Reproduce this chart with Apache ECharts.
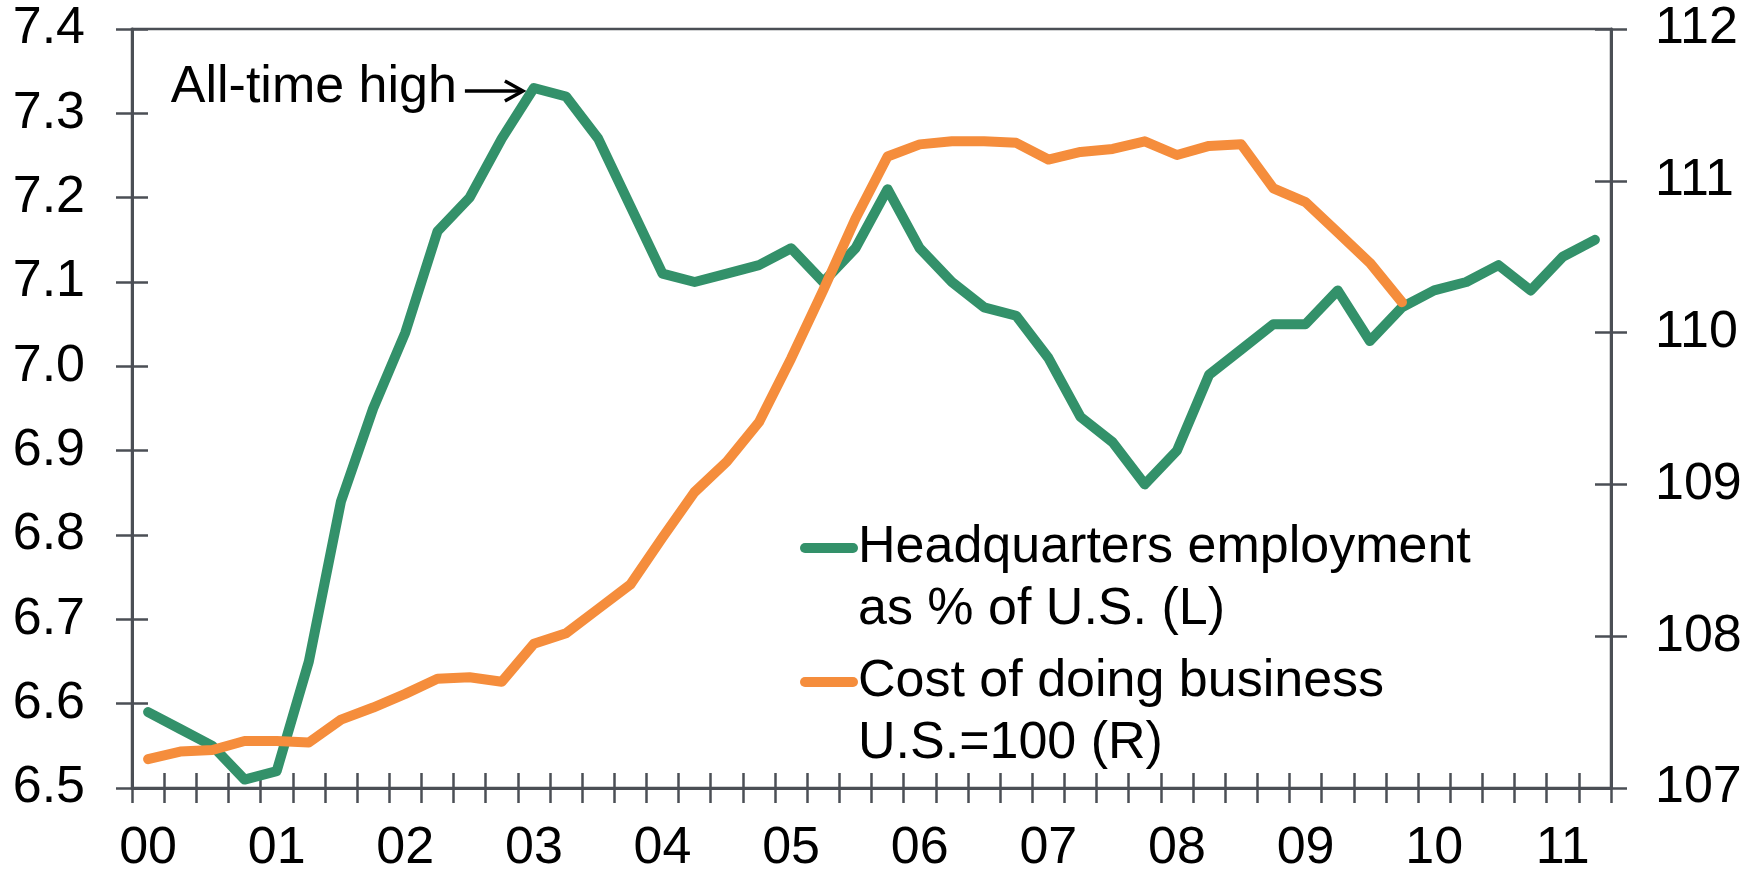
<!DOCTYPE html>
<html>
<head>
<meta charset="utf-8">
<title>Headquarters employment and cost of doing business</title>
<script src="https://cdn.jsdelivr.net/npm/echarts@6/dist/echarts.min.js"></script>
<style>
  html, body { margin: 0; padding: 0; background: #ffffff; }
  #main { width: 1762px; height: 875px; }
</style>
</head>
<body>
<div id="main"></div>
<script>
// Year tick labels (two-digit years); the axis runs quarterly, 2000 Q1 to 2011 Q2
const yearLabels = ['00', '01', '02', '03', '04', '05', '06', '07', '08', '09', '10', '11'];
const quarterNames = ['Q1', 'Q2', 'Q3', 'Q4'];
const quarterCount = 46;

// Headquarters employment as % of U.S. (left axis)
const hqShare = [
  6.59, 6.57, 6.55, 6.51, 6.52, 6.65, 6.84, 6.95,
  7.04, 7.16, 7.20, 7.27, 7.33, 7.32, 7.27, 7.19,
  7.11, 7.10, 7.11, 7.12, 7.14, 7.10, 7.14, 7.21,
  7.14, 7.10, 7.07, 7.06, 7.01, 6.94, 6.91, 6.86,
  6.90, 6.99, 7.02, 7.05, 7.05, 7.09, 7.03, 7.07,
  7.09, 7.10, 7.12, 7.09, 7.13, 7.15
];

// Cost of doing business, U.S. = 100 (right axis)
const costIndex = [
  107.19, 107.24, 107.25, 107.31, 107.31, 107.30, 107.45, 107.53,
  107.62, 107.72, 107.73, 107.70, 107.95, 108.02, 108.18, 108.34,
  108.65, 108.95, 109.15, 109.41, 109.83, 110.28, 110.75, 111.16,
  111.24, 111.26, 111.26, 111.25, 111.14, 111.19, 111.21, 111.26,
  111.17, 111.23, 111.24, 110.95, 110.86, 110.66, 110.46, 110.20
];

const seriesNames = ['Headquarters employment\nas % of U.S. (L)', 'Cost of doing business\nU.S.=100 (R)'];
const annotationText = 'All-time high';

// Quarterly category list built from the year labels
const quarters = [];
for (let i = 0; i < quarterCount; i++) {
  quarters.push(yearLabels[Math.floor(i / 4)] + ' ' + quarterNames[i % 4]);
}

const GREEN = '#33916a';
const ORANGE = '#f58d3c';
const AXIS = '#4b4f55';
const FONT = '"Liberation Sans", Arial, sans-serif';
const FS = 52;

const tickStyle = { color: AXIS, width: 2.5 };

const baseY = (min, max, interval, position) => ({
  type: 'value', position, min, max, interval,
  splitLine: { show: false }
});

const option = {
  animation: false,
  backgroundColor: '#ffffff',
  textStyle: { fontFamily: FONT },
  grid: {
    left: 132, right: 151, top: 29, bottom: 86,
    show: true, borderColor: AXIS, borderWidth: 2.5, backgroundColor: 'transparent'
  },
  xAxis: [
    {
      type: 'category', data: quarters, boundaryGap: true, position: 'bottom',
      axisLine: { show: true, lineStyle: { color: AXIS, width: 3 } },
      axisTick: { show: true, interval: 0, length: 15, lineStyle: tickStyle },
      axisLabel: {
        interval: 3, margin: 35, color: '#000', fontSize: FS, fontFamily: FONT,
        formatter: (v) => v.split(' ')[0]
      },
      splitLine: { show: false }
    },
    {
      type: 'category', data: quarters, boundaryGap: true, position: 'bottom',
      axisLine: { show: false },
      axisTick: { show: true, inside: true, interval: 0, length: 15, lineStyle: tickStyle },
      axisLabel: { show: false },
      splitLine: { show: false }
    }
  ],
  yAxis: [
    Object.assign(baseY(6.5, 7.4, 0.1, 'left'), {
      axisLine: { show: true, lineStyle: { color: AXIS, width: 3 } },
      axisTick: { show: true, length: 16, lineStyle: tickStyle },
      axisLabel: { margin: 47, color: '#000', fontSize: FS, fontFamily: FONT, formatter: (v) => v.toFixed(1) }
    }),
    Object.assign(baseY(107, 112, 1, 'right'), {
      axisLine: { show: true, lineStyle: { color: AXIS, width: 3 } },
      axisTick: { show: true, length: 16, lineStyle: tickStyle },
      axisLabel: { margin: 44, color: '#000', fontSize: FS, fontFamily: FONT, formatter: (v) => String(Math.round(v)) }
    }),
    Object.assign(baseY(6.5, 7.4, 0.1, 'left'), {
      axisLine: { show: false },
      axisTick: { show: true, inside: true, length: 16, lineStyle: tickStyle },
      axisLabel: { show: false }
    }),
    Object.assign(baseY(107, 112, 1, 'right'), {
      axisLine: { show: false },
      axisTick: { show: true, inside: true, length: 16, lineStyle: tickStyle },
      axisLabel: { show: false }
    })
  ],
  series: [
    {
      name: seriesNames[0], type: 'line', xAxisIndex: 0, yAxisIndex: 0,
      data: hqShare, showSymbol: false, symbol: 'none',
      lineStyle: { color: GREEN, width: 10, cap: 'round', join: 'round' },
      itemStyle: { color: GREEN }, z: 3
    },
    {
      name: seriesNames[1], type: 'line', xAxisIndex: 0, yAxisIndex: 1,
      data: costIndex, showSymbol: false, symbol: 'none',
      lineStyle: { color: ORANGE, width: 10, cap: 'round', join: 'round' },
      itemStyle: { color: ORANGE }, z: 4
    }
  ]
};

const chart = echarts.init(document.getElementById('main'), null, { renderer: 'canvas' });
chart.setOption(option);

// Annotation: text with an open arrow pointing at the series peak
const peakIdx = hqShare.indexOf(Math.max(...hqShare));
const peak = chart.convertToPixel({ xAxisIndex: 0, yAxisIndex: 0 }, [peakIdx, hqShare[peakIdx]]);
const tipX = peak[0] - 11, tipY = peak[1] + 3;
const tailX = tipX - 58;

// Legend entries: a short line sample beside a two-line label
const legendItems = [
  { color: GREEN, lines: seriesNames[0].split('\n'), y: 548 },
  { color: ORANGE, lines: seriesNames[1].split('\n'), y: 682 }
];
const legendGraphics = [];
legendItems.forEach((item) => {
  legendGraphics.push({
    type: 'line', shape: { x1: 805, y1: item.y, x2: 853, y2: item.y },
    style: { stroke: item.color, lineWidth: 10, lineCap: 'round' }
  });
  item.lines.forEach((t, k) => {
    legendGraphics.push({
      type: 'text', x: 858, y: item.y + k * 62,
      style: { text: t, fill: '#000', font: FS + 'px ' + FONT, textAlign: 'left', textVerticalAlign: 'middle' }
    });
  });
});

chart.setOption({
  graphic: [
    {
      type: 'text', x: tailX - 8, y: tipY - 3,
      style: { text: annotationText, fill: '#000', font: FS + 'px ' + FONT, textAlign: 'right', textVerticalAlign: 'middle' }
    },
    {
      type: 'line', shape: { x1: tailX, y1: tipY, x2: tipX, y2: tipY },
      style: { stroke: '#000', lineWidth: 3.5 }
    },
    {
      type: 'polyline', shape: { points: [[tipX - 18, tipY - 10], [tipX, tipY], [tipX - 18, tipY + 10]] },
      style: { stroke: '#000', lineWidth: 3.5, fill: null, lineJoin: 'miter' }
    }
  ].concat(legendGraphics)
});
</script>
</body>
</html>
